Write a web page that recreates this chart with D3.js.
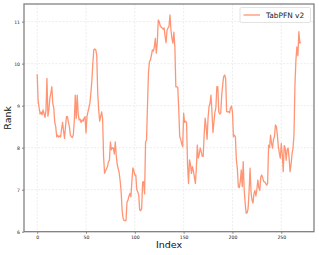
<!DOCTYPE html>
<html>
<head>
<meta charset="utf-8">
<script src="https://cdn.jsdelivr.net/npm/d3@7.9.0/dist/d3.min.js"></script>
<style>
  html, body { margin: 0; padding: 0; background: #fff; }
  svg { display: block; font-family: "DejaVu Sans", sans-serif; }
</style>
</head>
<body>
<svg id="chart" width="319" height="255"></svg>
<script>
// ---------------------------------------------------------------
// Data
// ---------------------------------------------------------------
const seriesName = 'TabPFN v2';
const rankValues = [
  9.75, 9.1, 8.95, 8.8, 8.85, 8.78, 8.9, 8.82, 8.72, 8.88,
  9.65, 8.75, 8.9, 9.18, 9.3, 9.45, 9.05, 8.95, 8.6, 8.5,
  8.26, 8.3, 8.25, 8.28, 8.26, 8.45, 8.6, 8.4, 8.22, 8.5,
  8.74, 8.74, 8.6, 8.5, 8.3, 8.26, 8.24, 8.3, 8.63, 9.25,
  8.7, 9.25, 8.8, 8.66, 8.68, 8.6, 8.66, 8.63, 8.7, 8.74,
  8.35, 8.74, 8.85, 8.95, 9.06, 9.3, 9.6, 10.0, 10.33, 10.35,
  10.33, 10.2, 9.3, 8.9, 8.63, 8.74, 8.85, 8.7, 7.79, 7.39,
  7.45, 7.5, 7.55, 7.67, 7.7, 8.14, 7.95, 8.0, 7.99, 7.85,
  8.14, 7.8, 7.6, 7.5, 7.4, 7.2, 6.95, 6.5, 6.32, 6.27,
  6.26, 6.27, 6.71, 6.75, 6.85, 6.91, 6.83, 7.2, 7.52, 7.45,
  7.35, 7.35, 7.0, 6.95, 6.87, 6.52, 6.5, 6.55, 7.18, 7.19,
  6.9, 8.14, 8.18, 9.02, 9.8, 10.05, 10.09, 10.2, 10.33, 10.3,
  10.4, 10.6, 10.25, 10.5, 11.04, 11.0, 10.9, 10.87, 10.85, 10.82,
  10.85, 10.65, 10.5, 10.8, 10.85, 10.88, 11.16, 10.8, 10.6, 10.49,
  10.75, 10.4, 9.45, 9.45, 9.43, 8.9, 8.26, 8.2, 8.1, 8.02,
  8.82, 8.6, 8.63, 8.6, 7.59, 7.15, 7.71, 7.6, 7.39, 7.55,
  7.45, 7.3, 7.15, 7.5, 8.06, 7.75, 7.85, 7.99, 7.9, 7.8,
  7.79, 8.3, 8.7, 8.5, 8.2, 8.7, 8.98, 9.05, 9.25, 8.85,
  8.36, 8.6, 8.84, 8.95, 9.45, 9.45, 8.85, 8.8, 8.83, 9.25,
  9.5, 9.69, 9.73, 9.65, 8.86, 8.85, 8.86, 8.83, 8.95, 8.99,
  8.85, 8.26, 8.3, 8.26, 7.71, 7.5, 7.07, 7.05, 7.2, 7.47,
  7.07, 7.67, 7.0, 6.68, 6.44, 6.45, 6.55, 6.95, 7.51, 6.95,
  6.75, 6.68, 6.9, 6.98, 6.85, 7.0, 7.23, 7.05, 6.98, 7.3,
  7.35, 7.28, 7.19, 7.19, 7.15, 7.11, 7.15, 8.06, 8.0, 8.3,
  8.1, 7.99, 8.2, 8.26, 8.54, 8.5, 8.3, 8.02, 7.87, 7.75,
  8.1, 7.85, 7.43, 8.05, 7.99, 7.7, 7.95, 7.99, 7.75, 7.43,
  7.6, 7.85, 7.99, 8.3, 9.5, 10.09, 10.4, 10.19, 10.76, 10.49,
  10.51
];
const xTicks = [0, 50, 100, 150, 200, 250];
const yTicks = [6, 7, 8, 9, 10, 11];

// ---------------------------------------------------------------
// Layout
// ---------------------------------------------------------------
const svg = d3.select('#chart');
const margin = { left: 24, top: 4, right: 5, bottom: 23.3 };
const W = 319, H = 255;
const innerW = W - margin.left - margin.right;
const innerH = H - margin.top - margin.bottom;

const x = d3.scaleLinear().domain([-13.5, 283.5]).range([0, innerW]);
const y = d3.scaleLinear().domain([6, 11.42]).range([innerH, 0]);

const g = svg.append('g').attr('transform', `translate(${margin.left},${margin.top})`);

// grid
g.append('g')
  .selectAll('line.gx')
  .data(xTicks)
  .join('line')
  .attr('x1', (d) => x(d)).attr('x2', (d) => x(d))
  .attr('y1', 0).attr('y2', innerH)
  .attr('stroke', '#e0e0e0').attr('stroke-width', 0.6)
  .attr('stroke-dasharray', '2,1.5');

g.append('g')
  .selectAll('line.gy')
  .data(yTicks)
  .join('line')
  .attr('y1', (d) => y(d)).attr('y2', (d) => y(d))
  .attr('x1', 0).attr('x2', innerW)
  .attr('stroke', '#e0e0e0').attr('stroke-width', 0.6)
  .attr('stroke-dasharray', '2,1.5');

// axes
const xAxis = g.append('g')
  .attr('transform', `translate(0,${innerH})`)
  .call(d3.axisBottom(x).tickValues(xTicks).tickSize(2).tickPadding(2)
    .tickFormat(d3.format('d')));
const yAxis = g.append('g')
  .call(d3.axisLeft(y).tickValues(yTicks).tickSize(2).tickPadding(2)
    .tickFormat(d3.format('d')));

[xAxis, yAxis].forEach((ax) => {
  ax.select('.domain').remove();
  ax.selectAll('.tick line').attr('stroke', '#333').attr('stroke-width', 0.6);
  ax.selectAll('.tick text')
    .attr('fill', '#222')
    .style('font-size', '4.6px')
    .style('font-family', '"DejaVu Sans", sans-serif');
});

// line
const line = d3.line()
  .x((d, i) => x(i))
  .y((d) => y(d));

g.append('path')
  .datum(rankValues)
  .attr('fill', 'none')
  .attr('stroke', '#ff8a65')
  .attr('stroke-opacity', 0.9)
  .attr('stroke-width', 1.3)
  .attr('stroke-linejoin', 'round')
  .attr('d', line);

// frame
g.append('rect')
  .attr('x', 0).attr('y', 0)
  .attr('width', innerW).attr('height', innerH)
  .attr('fill', 'none')
  .attr('stroke', '#777')
  .attr('stroke-width', 1.2);

// axis labels
svg.append('text')
  .attr('x', margin.left + innerW / 2)
  .attr('y', 248)
  .attr('text-anchor', 'middle')
  .style('font-size', '9.5px')
  .attr('fill', '#111')
  .text('Index');

svg.append('text')
  .attr('transform', `translate(11,${margin.top + innerH / 2}) rotate(-90)`)
  .attr('text-anchor', 'middle')
  .style('font-size', '9.5px')
  .attr('fill', '#111')
  .text('Rank');

// legend
const legend = svg.append('g').attr('transform', 'translate(240,7.5)');
legend.append('rect')
  .attr('width', 70.5).attr('height', 15)
  .attr('rx', 1.5)
  .attr('fill', '#fff').attr('fill-opacity', 0.8)
  .attr('stroke', '#d0d0d0').attr('stroke-width', 0.6);
legend.append('line')
  .attr('x1', 3.5).attr('x2', 20)
  .attr('y1', 7.5).attr('y2', 7.5)
  .attr('stroke', '#ff8a65').attr('stroke-opacity', 0.9)
  .attr('stroke-width', 1.3);
legend.append('text')
  .attr('x', 26).attr('y', 10.2)
  .style('font-size', '7.4px')
  .attr('fill', '#222')
  .text(seriesName);
</script>
</body>
</html>
